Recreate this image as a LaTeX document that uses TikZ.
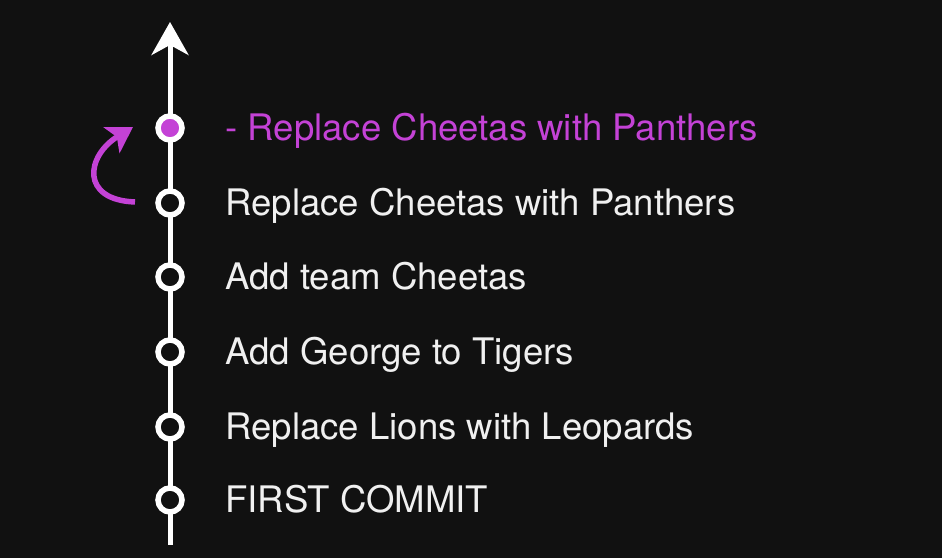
\documentclass[tikz,border=0pt]{standalone}
\usepackage{fontspec}
\setmainfont{TeX Gyre Heros}
\usetikzlibrary{arrows.meta,positioning}

\definecolor{bgdark}{RGB}{17,17,17}
\definecolor{headpurple}{RGB}{196,66,214}
\definecolor{msgwhite}{RGB}{240,240,240}

\begin{document}
\begin{tikzpicture}[
    commit/.style={
        circle,
        draw=white,
        fill=bgdark,
        line width=0.055cm,
        minimum size=0.24cm,
        inner sep=0pt
    },
    head/.style={commit, fill=headpurple},
    msg/.style={
        inner sep=0pt,
        anchor=west,
        text height=7.4pt,
        text depth=0pt,
        font=\fontsize{10.4}{12}\selectfont,
        text=msgwhite
    },
    headmsg/.style={msg, text=headpurple},
    history/.style={-{Stealth[length=0.33cm, width=0.37cm, inset=0.1cm]}, draw=white, line width=0.05cm},
    reset/.style={-{Stealth[length=0.25cm, width=0.3cm, inset=0.06cm]}, draw=headpurple, line width=0.055cm}
]

    % --- CANVAS ---
    \fill[bgdark] (0,0) rectangle (9.42,5.58);
    \useasboundingbox (0,0) rectangle (9.42,5.58);

    % --- TIMELINE ---
    \coordinate (start) at (1.70,0.13);
    \coordinate (tip) at (1.70,5.36);
    \draw[history] (start) -- (tip);

    % --- COMMITS (bottom to top) ---
    \node[commit] (c1) at (1.70,0.58) {};
    \node[commit] (c2) at (1.70,1.31) {};
    \node[commit] (c3) at (1.70,2.06) {};
    \node[commit] (c4) at (1.70,2.81) {};
    \node[commit] (c5) at (1.70,3.55) {};
    \node[head]   (c6) at (1.70,4.30) {};

    % --- MESSAGES ---
    \node[msg, right=0.4cm of c1] (m1) {FIRST COMMIT};
    \node[msg, right=0.4cm of c2] (m2) {Replace Lions with Leopards};
    \node[msg, right=0.4cm of c3] (m3) {Add George to Tigers};
    \node[msg, right=0.4cm of c4] (m4) {Add team Cheetas};
    \node[msg, right=0.4cm of c5] (m5) {Replace Cheetas with Panthers};
    \node[headmsg, right=0.4cm of c6] (m6) {- Replace Cheetas with Panthers};

    % --- REVERT ARROW ---
    \coordinate (revfrom) at (1.35,3.56);
    \coordinate (revto) at (1.33,4.31);
    \draw[reset] (revfrom) .. controls (0.80,3.58) and (0.86,4.02) .. (revto);

\end{tikzpicture}
\end{document}
